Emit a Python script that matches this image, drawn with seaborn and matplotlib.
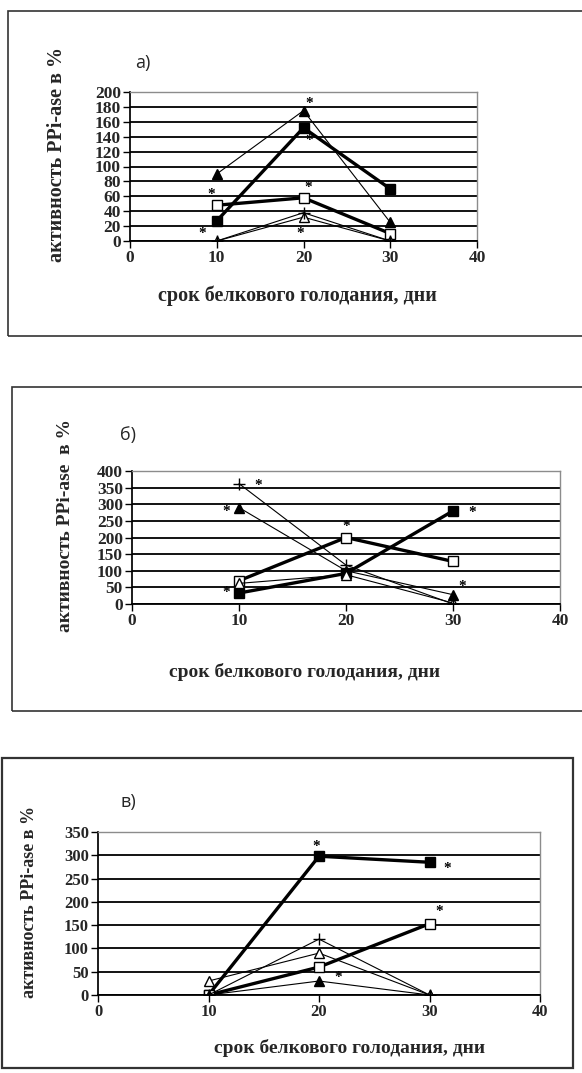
import numpy as np
import pandas as pd
import matplotlib
matplotlib.use("Agg")
import matplotlib.pyplot as plt
import seaborn as sns
from matplotlib.patches import Rectangle

W, H = 582, 1073

days = [10, 20, 30]

# panel а)  (0..200 %)
a_tri_filled = [90, 175, 25]
a_sq_filled = [27, 152, 70]
a_sq_open = [48, 58, 10]
a_tri_open = [0, 32, 0]
a_plus = [0, 38, 0]
a_star_x = [9.4, 8.3, 19.6, 20.5, 20.7, 20.7]
a_star_y = [62, 10, 10, 72, 184, 135]

# panel б)  (0..400 %)
b_plus = [362, 117, 0]
b_tri_filled = [290, 100, 28]
b_sq_open = [70, 200, 128]
b_sq_filled = [33, 92, 280]
b_tri_open = [62, 88, 3]
b_star_x = [11.8, 8.8, 20.0, 31.8, 30.9, 8.8]
b_star_y = [357, 277, 234, 275, 52, 34]

# panel в)  (0..350 %)
c_sq_filled = [0, 298, 285]
c_sq_open = [0, 60, 153]
c_plus = [0, 120, 0]
c_tri_open = [30, 90, 0]
c_tri_filled = [0, 30, 0]
c_star_x = [19.7, 31.6, 30.9, 21.7]
c_star_y = [319, 271, 179, 38]

x_ticks = [0, 10, 20, 30, 40]
a_yticks = list(range(0, 201, 20))
b_yticks = list(range(0, 401, 50))
c_yticks = list(range(0, 351, 50))

xlabel = "срок белкового голодания, дни"

sns.set_theme(style="white")
plt.rcParams["font.family"] = ["Liberation Serif", "DejaVu Serif"]

# marker, face colour, line width
styles = {
    "sq_filled": ("s", "black", 2.4),
    "sq_open": ("s", "white", 2.4),
    "tri_filled": ("^", "black", 0.8),
    "tri_open": ("^", "white", 0.8),
    "plus": ("+", "black", 0.8),
}


def fx(px):
    return px / W


def fy(py):
    return 1 - py / H


def make_axes(fig, left, right, top, bottom):
    return fig.add_axes([fx(left), fy(bottom), fx(right - left), (bottom - top) / H])


def draw_panel(ax, series, yticks, stars_x, stars_y, tick_fs):
    for name, vals in series:
        marker, face, lw = styles[name]
        df = pd.DataFrame({"day": days, "val": vals})
        sns.lineplot(data=df, x="day", y="val", ax=ax, color="black", lw=lw,
                     marker=marker, markersize=6.5 if marker != "+" else 9,
                     markerfacecolor=face, markeredgecolor="black",
                     markeredgewidth=1.0)
    for sx, sy in zip(stars_x, stars_y):
        ax.text(sx, sy, "*", ha="center", va="center", fontsize=11,
                fontweight="bold", color="black")
    ax.set_xlim(0, 40)
    ax.set_ylim(yticks[0], yticks[-1])
    ax.set_xticks(x_ticks)
    ax.set_yticks(yticks)
    ax.yaxis.grid(True, color="black", lw=1.3)
    ax.xaxis.grid(False)
    ax.get_ygridlines()[-1].set_color("#8c8c8c")
    ax.set_axisbelow(True)
    for side in ["top", "right"]:
        ax.spines[side].set_color("#8c8c8c")
        ax.spines[side].set_linewidth(1.0)
    ax.spines["left"].set_color("black")
    ax.spines["bottom"].set_color("black")
    ax.spines["bottom"].set_linewidth(1.3)
    ax.tick_params(axis="both", direction="out", length=5, width=1,
                   color="black", labelsize=tick_fs, pad=1.5, left=True, bottom=True)
    for lab in ax.get_xticklabels() + ax.get_yticklabels():
        lab.set_fontweight("bold")
    ax.set_xlabel("")
    ax.set_ylabel("")


fig = plt.figure(figsize=(W / 100, H / 100), dpi=100)

# outer frames of the three pictures
frames = [(8, 11, 620, 336, 1.2), (12, 387, 620, 711, 1.2), (2, 758, 573, 1068, 1.6)]
for x0, y0, x1, y1, lw in frames:
    fig.patches.append(Rectangle((fx(x0), fy(y1)), fx(x1 - x0), (y1 - y0) / H,
                                 transform=fig.transFigure, fill=False,
                                 edgecolor="#333333", lw=lw, clip_on=False))

ax_a = make_axes(fig, 130, 477, 92, 241)
draw_panel(ax_a, [("sq_filled", a_sq_filled), ("sq_open", a_sq_open),
                  ("tri_filled", a_tri_filled), ("tri_open", a_tri_open),
                  ("plus", a_plus)], a_yticks, a_star_x, a_star_y, 12.5)

ax_b = make_axes(fig, 132, 560, 471, 604)
draw_panel(ax_b, [("sq_filled", b_sq_filled), ("sq_open", b_sq_open),
                  ("tri_filled", b_tri_filled), ("tri_open", b_tri_open),
                  ("plus", b_plus)], b_yticks, b_star_x, b_star_y, 12.5)

ax_c = make_axes(fig, 98, 540, 832, 995)
draw_panel(ax_c, [("sq_filled", c_sq_filled), ("sq_open", c_sq_open),
                  ("tri_filled", c_tri_filled), ("tri_open", c_tri_open),
                  ("plus", c_plus)], c_yticks, c_star_x, c_star_y, 12)

# panel letters
for txt, px, py in [("а)", 135, 63), ("б)", 120, 435), ("в)", 120, 802)]:
    fig.text(fx(px), fy(py), txt, ha="left", va="center", fontsize=13,
             family="Open Sans")

# axis titles
ylab_a = "активность PPi-ase в %"
ylab_b = "активность PPi-ase  в %"
for txt, px, py, fs in [(ylab_a, 57, 154, 14.5), (ylab_b, 66, 525, 14), (ylab_a, 30, 902, 13)]:
    fig.text(fx(px), fy(py), txt, rotation=90, ha="center", va="center",
             fontsize=fs, fontweight="bold")
for px, py, fs in [(297, 296, 14.5), (305, 672, 14), (350, 1048, 14)]:
    fig.text(fx(px), fy(py), xlabel, ha="center", va="center",
             fontsize=fs, fontweight="bold")

fig.savefig("out.png", dpi=100)
